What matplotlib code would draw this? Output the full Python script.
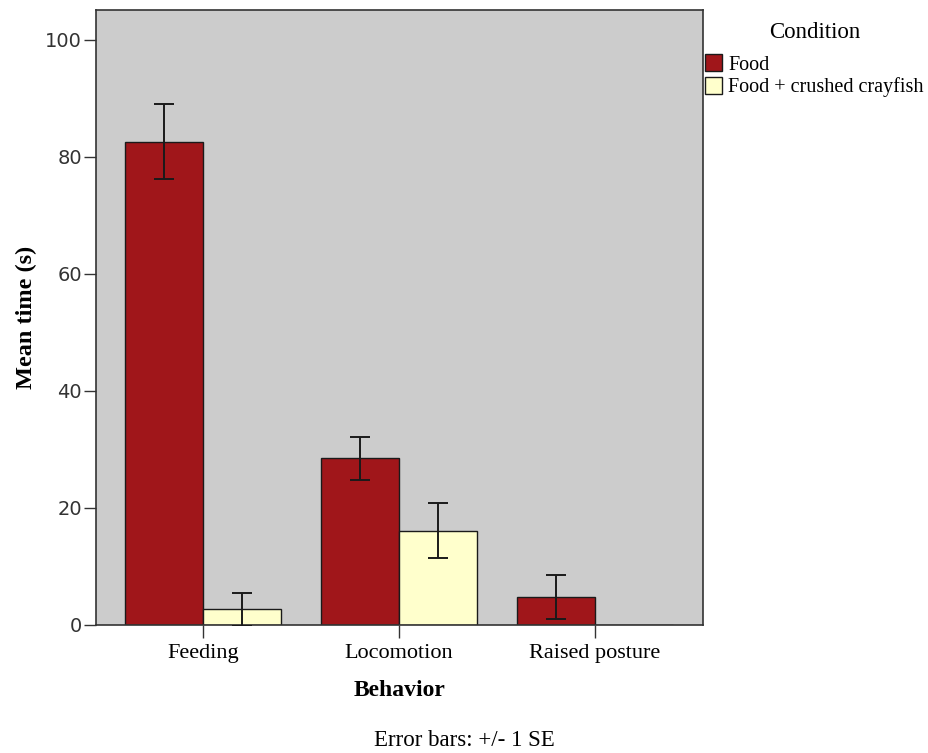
import matplotlib
matplotlib.use("Agg")
import matplotlib.pyplot as plt
import numpy as np

behaviors = ["Feeding", "Locomotion", "Raised posture"]
conditions = ["Food", "Food + crushed crayfish"]
food_mean = [82.6, 28.5, 4.8]
food_se = [6.45, 3.7, 3.7]
crayfish_mean = [2.7, 16.1, 0.0]
crayfish_se = [2.8, 4.7, 0.0]
colors = ["#A0161A", "#FFFFCC"]

serif = ["Liberation Serif", "DejaVu Serif"]

fig = plt.figure(figsize=(9.29, 7.53), dpi=100)
ax = fig.add_axes([0.1033, 0.170, 0.6534, 0.8167])
ax.set_facecolor("#CCCCCC")

x = np.arange(len(behaviors))
w = 0.40
err_kw = dict(ecolor="#1a1a1a", elinewidth=1.4, capsize=7, capthick=1.4)
b1 = ax.bar(x - w / 2, food_mean, w, color=colors[0], edgecolor="#1a1a1a",
            linewidth=1.0, label=conditions[0], zorder=2)
b2 = ax.bar(x + w / 2, crayfish_mean, w, color=colors[1], edgecolor="#1a1a1a",
            linewidth=1.0, label=conditions[1], zorder=2)
ax.errorbar(x - w / 2, food_mean, yerr=food_se, fmt="none", zorder=3, **err_kw)
mask = np.array(crayfish_se) > 0
ax.errorbar((x + w / 2)[mask], np.array(crayfish_mean)[mask],
            yerr=np.array(crayfish_se)[mask], fmt="none", zorder=3, **err_kw)

ax.set_xlim(-0.546, 2.551)
ax.set_ylim(0, 105.1)
ax.set_xticks(x)
ax.set_xticklabels(behaviors, fontfamily=serif, fontsize=16)
ax.set_yticks([0, 20, 40, 60, 80, 100])
for lbl in ax.get_yticklabels():
    lbl.set_fontfamily("DejaVu Sans")
    lbl.set_fontsize(14)
    lbl.set_color("#333333")
ax.tick_params(axis="both", length=9, width=1.0, color="#333333")
ax.tick_params(axis="x", pad=5)
ax.tick_params(axis="y", pad=1)
for s in ax.spines.values():
    s.set_color("#333333")
    s.set_linewidth(1.2)

ax.set_xlabel("Behavior", fontfamily=serif, fontsize=17, fontweight="bold", labelpad=12)
ax.set_ylabel("Mean time (s)", fontfamily=serif, fontsize=17.5, fontweight="bold", labelpad=6)

leg = fig.legend(handles=[b1, b2], title="Condition", loc="upper left",
                 bbox_to_anchor=(0.757, 0.973), frameon=False,
                 prop={"family": serif, "size": 14.5},
                 title_fontproperties={"family": serif, "size": 16.5},
                 handlelength=0.85, handleheight=0.9, handletextpad=0.3,
                 labelspacing=0.12, borderaxespad=0, borderpad=0.1)
leg._legend_box.sep = 8

fig.text(0.5, 0.002, "Error bars: +/- 1 SE", ha="center", va="bottom",
         fontfamily=serif, fontsize=16.5)

fig.savefig("out.png", dpi=100)
